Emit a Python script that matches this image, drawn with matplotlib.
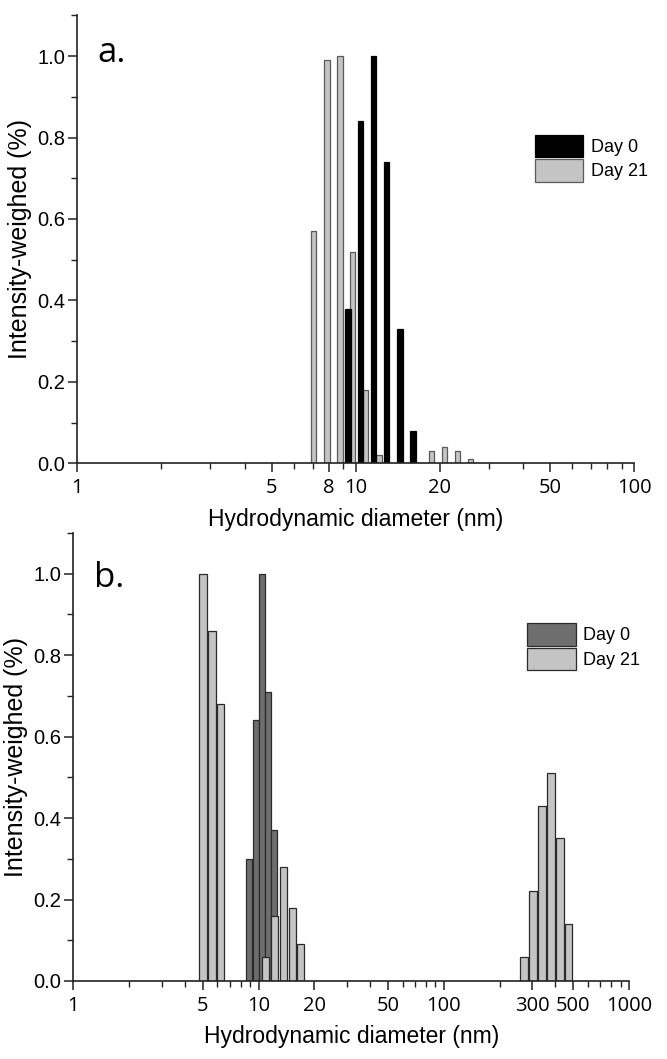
import numpy as np
import matplotlib
matplotlib.use("Agg")
from matplotlib import pyplot as plt
from matplotlib.ticker import FixedLocator, NullFormatter, LogLocator

#
# Data
#
# panel a
a_day0_d = [9.36, 10.42, 11.6, 12.9, 14.4, 16.07]
a_day0_h = [0.38, 0.84, 1.00, 0.74, 0.33, 0.08]
a_day21_d = [7.04, 7.87, 8.76, 9.75, 10.86, 12.14, 18.7, 20.8, 23.2, 25.8]
a_day21_h = [0.57, 0.99, 1.00, 0.52, 0.18, 0.02, 0.03, 0.04, 0.03, 0.01]
a_xticks = [1, 5, 8, 10, 20, 50, 100]

# panel b
b_day0_d = [8.9, 9.64, 10.47, 11.3, 12.15]
b_day0_h = [0.30, 0.64, 1.00, 0.71, 0.37]
b_day21_d = [5.0, 5.6, 6.25, 10.87, 12.15, 13.6, 15.2, 16.9,
             271.6, 303.7, 339.6, 380.0, 424.7, 473.0]
b_day21_h = [1.00, 0.86, 0.68, 0.06, 0.16, 0.28, 0.18, 0.09,
             0.06, 0.22, 0.43, 0.51, 0.35, 0.14]
b_xticks = [1, 5, 10, 20, 50, 100, 300, 500, 1000]

yticks = [0.0, 0.2, 0.4, 0.6, 0.8, 1.0]
series_names = ["Day 0", "Day 21"]

LABEL_FONT = "Liberation Sans"
TICK_FONT = "Open Sans"


def log_bars(ax, d, h, width_dec, **kw):
    # bars of constant width in log10 space
    d = np.asarray(d, dtype=float)
    left = d * 10 ** (-width_dec / 2)
    right = d * 10 ** (width_dec / 2)
    return ax.bar(left, h, width=right - left, align="edge", **kw)


def style_axes(ax, xticks, xlim):
    ax.set_xscale("log")
    ax.set_xlim(*xlim)
    ax.set_ylim(0, 1.1)
    ax.spines["top"].set_visible(False)
    ax.spines["right"].set_visible(False)
    for s in ("left", "bottom"):
        ax.spines[s].set_linewidth(1.2)
        ax.spines[s].set_color("#222222")
    ax.xaxis.set_major_locator(FixedLocator(xticks))
    ax.xaxis.set_minor_locator(LogLocator(base=10, subs=np.arange(2, 10)))
    ax.xaxis.set_minor_formatter(NullFormatter())
    ax.set_xticklabels([str(t) for t in xticks], fontfamily=TICK_FONT, fontsize=14.5)
    ax.set_yticks(yticks)
    ax.set_yticks(np.arange(0.1, 1.11, 0.2), minor=True)
    ax.set_yticklabels(["%.1f" % t for t in yticks], fontfamily=LABEL_FONT, fontsize=14.5)
    ax.tick_params(axis="both", which="major", direction="out", length=6.5, width=1.1,
                   color="#222222")
    ax.tick_params(axis="x", which="major", pad=4)
    ax.tick_params(axis="y", which="major", pad=2)
    ax.tick_params(axis="both", which="minor", direction="out", length=4, width=1.0,
                   color="#222222")
    ax.set_xlabel("Hydrodynamic diameter (nm)", fontfamily=LABEL_FONT, fontsize=16.5,
                  labelpad=7)
    ax.set_ylabel("Intensity-weighed (%)", fontfamily=LABEL_FONT, fontsize=18,
                  labelpad=4)


def add_legend(ax, handles, labels, anchor):
    ax.legend(handles, labels, loc="upper left", bbox_to_anchor=anchor,
              frameon=False, handlelength=2.7, handleheight=1.55, handletextpad=0.4,
              labelspacing=0.1, prop={"family": LABEL_FONT, "size": 13})


fig = plt.figure(figsize=(6.67, 10.59), dpi=100)

#
# panel a
#
ax1 = fig.add_axes([0.1159, 0.5625, 0.835, 0.423])
log_bars(ax1, a_day21_d, a_day21_h, 0.0197, color="#c4c4c4", edgecolor="#5a5a5a",
         linewidth=0.9, label=series_names[1])
log_bars(ax1, a_day0_d, a_day0_h, 0.0197, color="black", edgecolor="black",
         linewidth=0.9, label=series_names[0])
style_axes(ax1, a_xticks, (1, 100))
ax1.text(0.036, 0.895, "a.", transform=ax1.transAxes, fontfamily=TICK_FONT,
         fontsize=25, va="baseline", ha="left")
h, l = ax1.get_legend_handles_labels()
add_legend(ax1, h[::-1], l[::-1], (0.792, 0.77))

#
# panel b
#
ax2 = fig.add_axes([0.110, 0.0737, 0.833, 0.423])
log_bars(ax2, b_day0_d, b_day0_h, 0.032, color="#6e6e6e", edgecolor="#2a2a2a",
         linewidth=0.9, label=series_names[0])
log_bars(ax2, b_day21_d, b_day21_h, 0.04, color="#c4c4c4", edgecolor="#2a2a2a",
         linewidth=0.9, label=series_names[1])
style_axes(ax2, b_xticks, (1, 1000))
ax2.text(0.038, 0.879, "b.", transform=ax2.transAxes, fontfamily=TICK_FONT,
         fontsize=25, va="baseline", ha="left")
h, l = ax2.get_legend_handles_labels()
add_legend(ax2, h, l, (0.787, 0.835))

fig.savefig("out.png", dpi=100)
